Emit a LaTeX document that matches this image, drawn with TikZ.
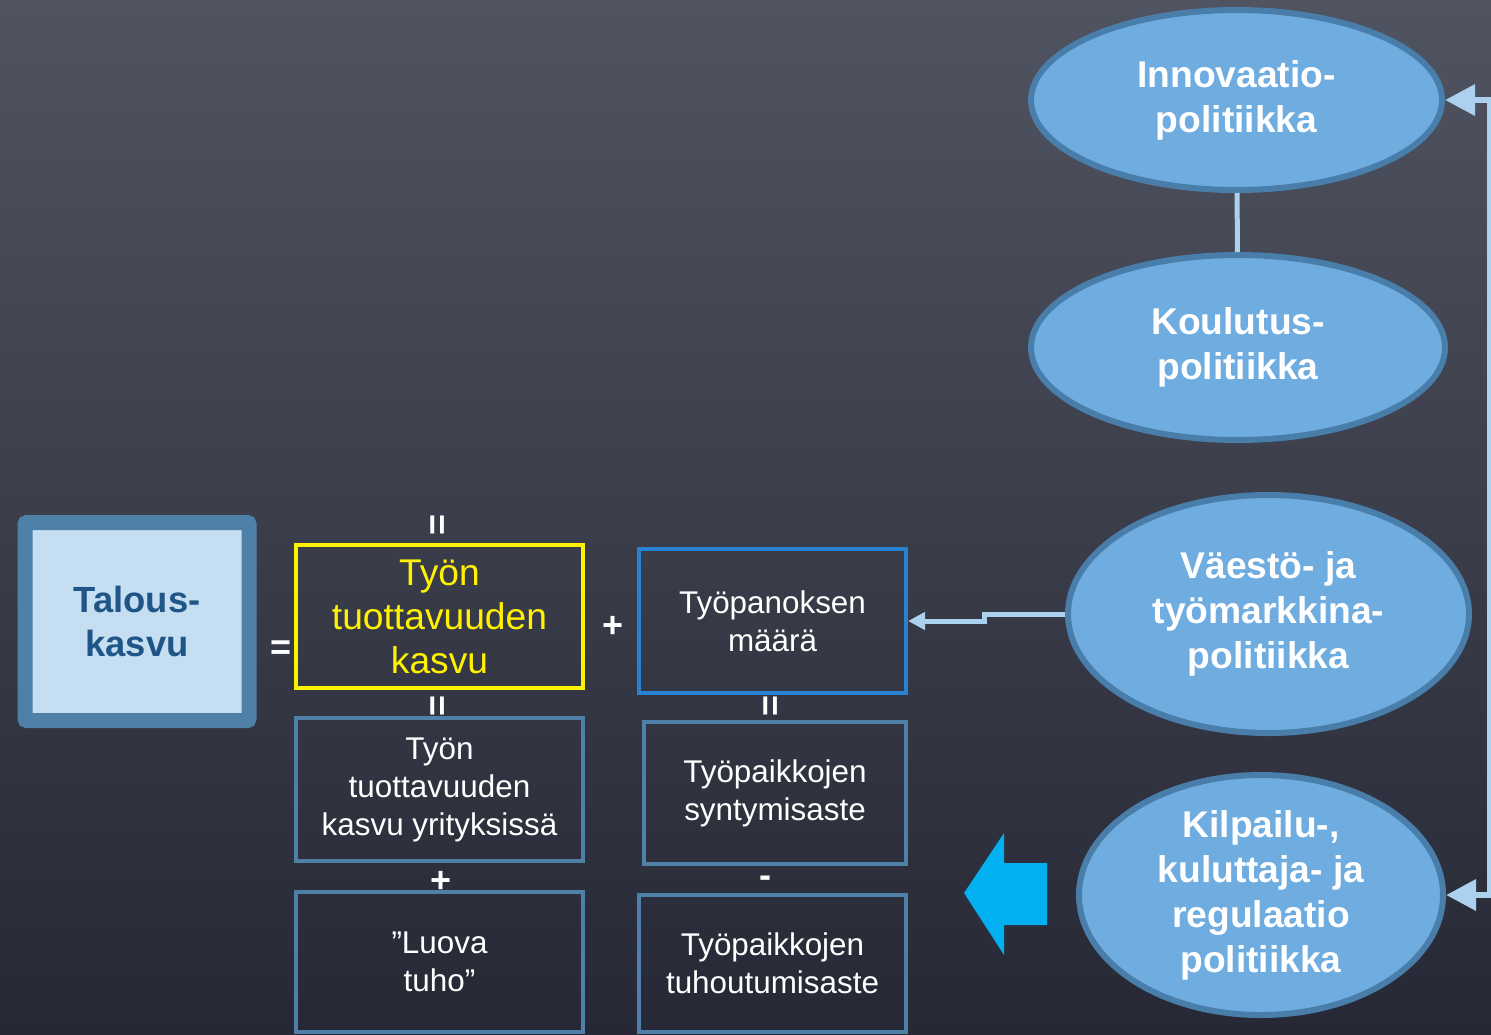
\documentclass[tikz,border=0pt]{standalone}
\usepackage{fontspec}
\setmainfont{Liberation Sans}
\usetikzlibrary{shapes.geometric,arrows.meta}

\definecolor{bgtop}{RGB}{80,83,96}
\definecolor{bgbot}{RGB}{38,41,53}
\definecolor{steel}{RGB}{79,129,168}
\definecolor{paleblue}{RGB}{198,222,241}
\definecolor{darkblue}{RGB}{31,85,135}
\definecolor{midblue}{RGB}{40,130,210}
\definecolor{ovalfill}{RGB}{111,172,224}
\definecolor{ovaledge}{RGB}{74,126,170}
\definecolor{linkblue}{RGB}{172,209,238}
\definecolor{cyanarrow}{RGB}{0,176,240}

\tikzset{every picture/.style={line width=0.75pt},
	box/.style={draw=steel, line width=2pt, inner sep=0pt, align=center, text=white, font=\fontsize{15.7}{19}\selectfont},
	policy/.style={ellipse, draw=ovaledge, fill=ovalfill, line width=3pt, inner sep=0pt, align=center, text=white, font=\bfseries\fontsize{18.6}{22.5}\selectfont},
	sign/.style={text=white, inner sep=0pt, font=\bfseries\fontsize{18}{18}\selectfont},
	link/.style={draw=linkblue, line width=2.5pt}
}

\begin{document}
\begin{tikzpicture}[x=0.5pt,y=0.5pt,yscale=-1,xscale=1]
	%Background
	\shade [top color=bgtop, bottom color=bgbot] (0,0) rectangle (1491,1034);
	\useasboundingbox (0,0) rectangle (1491,1034);

	%Talous box
	\node [draw=steel, fill=paleblue, line width=7.5pt, rounded corners=1pt, minimum width=112pt, minimum height=99pt, inner sep=0pt, align=center, text=darkblue, font=\bfseries\fontsize{18.2}{22}\selectfont] (talous) at (137,621.5) {Talous-\\kasvu};

	%Boxes
	\node [box, draw=yellow, text=yellow, font=\fontsize{18.6}{22}\selectfont, minimum width=143.5pt, minimum height=71.5pt] (tuottavuus) at (439.5,616.5) {Työn\\tuottavuuden\\kasvu};
	\node [box, draw=midblue, minimum width=133.5pt, minimum height=72pt] (tyopanos) at (772.5,621) {Työpanoksen\\määrä};
	\node [box, minimum width=143.5pt, minimum height=71.5pt] (yritykset) at (439.5,789.5) {Työn\\tuottavuuden\\kasvu yrityksissä};
	\node [box, minimum width=131pt, minimum height=71pt] (syntyminen) at (775,793) {Työpaikkojen\\syntymisaste};
	\node [box, minimum width=143.5pt, minimum height=70pt] (luovatuho) at (439.5,962) {”Luova\\tuho”};
	\node [box, minimum width=133.5pt, minimum height=68.5pt] (tuhoutuminen) at (772.5,963.5) {Työpaikkojen\\tuhoutumisaste};

	% Signs
	\node [sign] (eq) at (281,650) {=};
	\node [sign, rotate=90] (eqtop) at (440,525) {=};
	\node [sign, rotate=90] (eqleft) at (440,706) {=};
	\node [sign, rotate=90] (eqright) at (773,706) {=};
	\node [sign] (plusmid) at (613,627) {+};
	\node [sign] (pluslow) at (441,882) {+};
	\node [sign] (minuslow) at (765,882) {-};

	%Policy ellipses
	\node [policy, minimum width=205.5pt, minimum height=90pt] (innovaatio) at (1236.5,100) {Innovaatio-\\politiikka};
	\node [policy, minimum width=207pt, minimum height=92.5pt] (koulutus) at (1238,347.5) {Koulutus-\\politiikka};
	\node [policy, minimum width=200.5pt, minimum height=119pt] (vaesto) at (1268.5,614) {Väestö- ja\\työmarkkina-\\politiikka};
	\node [policy, minimum width=182pt, minimum height=120pt] (kilpailu) at (1261,895) {Kilpailu-,\\kuluttaja- ja\\regulaatio\\politiikka};

	%Connectors
	\draw [link] (innovaatio) -- (koulutus);
	\draw [link, -{Triangle[length=8.5pt,width=8.5pt]}] (vaesto.west) -- ++(-81,0) |- (tyopanos.east);
	\draw [link, line width=3.2pt, {Triangle[length=15pt,width=15pt]}-{Triangle[length=15pt,width=15pt]}] (innovaatio.east) -- ++(45,0) |- (kilpailu.east);

	%Big arrow
	\fill [cyanarrow] (964,893) -- (1004,833) -- (1004,863) -- (1047,863) -- (1047,925) -- (1004,925) -- (1004,955) -- cycle;
\end{tikzpicture}
\end{document}
